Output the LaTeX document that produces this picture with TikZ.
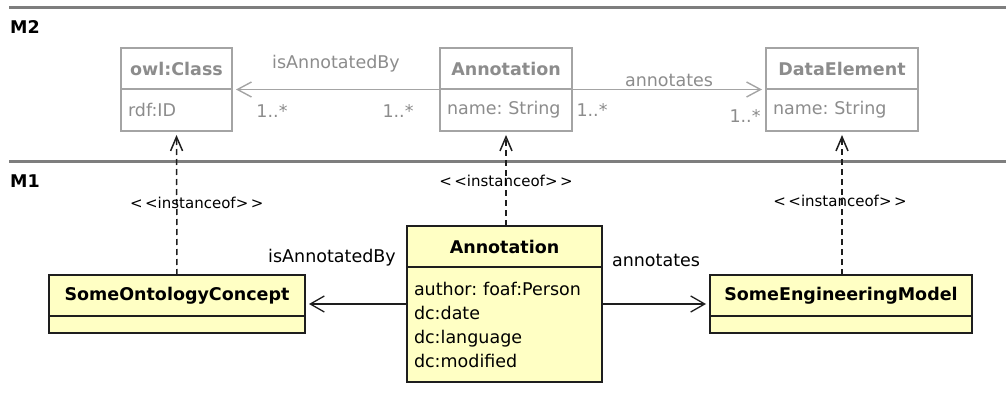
\documentclass[tikz,border=0pt]{standalone}
\usepackage{fontspec}
\setmainfont{DejaVu Sans}
\usetikzlibrary{positioning,arrows.meta,fit}
\definecolor{metaGray}{HTML}{8C8C8C}
\definecolor{metaLine}{HTML}{A4A4A4}
\definecolor{levelGray}{HTML}{7E7E7E}
\definecolor{modelFill}{HTML}{FFFFC4}
\definecolor{modelLine}{HTML}{1E1E1E}
\newcommand{\umlfont}{\fontsize{17.5pt}{24pt}\selectfont}
\newcommand{\stereofont}{\fontsize{15pt}{16pt}\selectfont}
\frenchspacing
\tikzset{
    metatitle/.style={draw=metaLine,line width=1.4pt,text=metaGray,font=\umlfont\bfseries,
        minimum width=#1,minimum height=41pt,inner sep=0pt,outer sep=0pt,anchor=north west},
    metabody/.style={draw=metaLine,line width=1.4pt,text=metaGray,font=\umlfont,
        text width=#1,minimum height=42pt,inner xsep=7pt,inner ysep=0pt,outer sep=0pt,align=left},
    modeltitle/.style={draw=modelLine,fill=modelFill,line width=1.6pt,font=\umlfont\bfseries,
        minimum width=#1,minimum height=41pt,inner sep=0pt,outer sep=0pt,anchor=north west},
    modelbody/.style={draw=modelLine,fill=modelFill,line width=1.6pt,font=\umlfont,
        text width=#1,inner xsep=7pt,inner ysep=0pt,outer sep=0pt,align=left},
    classfit/.style={inner sep=0pt,outer sep=0pt},
    levelline/.style={draw=levelGray,line width=3pt},
    levellabel/.style={font=\umlfont\bfseries,anchor=west,inner sep=0pt},
    metaassoc/.style={-{Straight Barb[length=14pt,width=15pt]},draw=metaLine,line width=1.4pt,shorten >=4pt},
    modelassoc/.style={-{Straight Barb[length=14pt,width=16pt]},draw=modelLine,line width=1.3pt,shorten >=4pt},
    instanceof/.style={-{Straight Barb[length=14pt,width=12pt]},draw=modelLine,line width=1.5pt,
        dash pattern=on 6pt off 4pt,shorten >=4pt},
    metalabel/.style={font=\umlfont,text=metaGray,inner sep=0pt},
    rolelabel/.style={font=\umlfont,inner sep=0pt},
    stereolabel/.style={font=\stereofont,inner sep=0pt}
}

\begin{document}
\begin{tikzpicture}[x=1pt,y=-1pt]
    \useasboundingbox (0,0) rectangle (1006,398);
    % levels
    \draw[levelline] (9,8) -- (1006,8);
    \draw[levelline] (9,162) -- (1006,162);
    \node[levellabel] (lvlM2) at (10,27) {M2};
    \node[levellabel] (lvlM1) at (10,181) {M1};

    % M2 classes
    \node[metatitle=111pt] (owlT) at (121,48) {owl:Class};
    \node[metabody=97pt] (owlB) [below=0pt of owlT] {rdf:ID};
    \node[metatitle=132pt] (annMT) at (440,48) {Annotation};
    \node[metabody=118pt] (annMB) [below=0pt of annMT] {name: String};
    \node[metatitle=152pt] (dataT) at (766,48) {DataElement};
    \node[metabody=138pt] (dataB) [below=0pt of dataT] {name: String};
    \node[classfit,fit=(owlT)(owlB)] (owl) {};
    \node[classfit,fit=(annMT)(annMB)] (annM) {};
    \node[classfit,fit=(dataT)(dataB)] (data) {};

    % M1 classes
    \node[modeltitle=256pt] (conceptT) at (49,275) {SomeOntologyConcept};
    \node[modelbody=242pt,minimum height=17pt] (conceptB) [below=0pt of conceptT] {};
    \node[modeltitle=195pt] (annT) at (407,226) {Annotation};
    \node[modelbody=181pt,minimum height=115pt] (annB) [below=0pt of annT]
        {author: foaf:Person\\dc:date\\dc:language\\dc:modified};
    \node[modeltitle=262pt] (modelT) at (710,275) {SomeEngineeringModel};
    \node[modelbody=248pt,minimum height=17pt] (modelB) [below=0pt of modelT] {};
    \node[classfit,fit=(conceptT)(conceptB)] (concept) {};
    \node[classfit,fit=(annT)(annB)] (ann) {};
    \node[classfit,fit=(modelT)(modelB)] (model) {};

    % M2 associations
    \draw[metaassoc] (annM.west) -- (owl.east)
        node[metalabel,midway,yshift=25.5pt] {isAnnotatedBy}
        node[metalabel,at end,xshift=40pt,yshift=-21.5pt] {1..*}
        node[metalabel,at start,xshift=-42pt,yshift=-21.5pt] {1..*};
    \draw[metaassoc] (annM.east) -- (data.west)
        node[metalabel,midway,yshift=9.5pt] {annotates}
        node[metalabel,at start,xshift=20pt,yshift=-20.5pt] {1..*}
        node[metalabel,at end,xshift=-21pt,yshift=-26.5pt] {1..*};

    % M1 associations
    \draw[modelassoc] (ann.west) -- (concept.east)
        node[rolelabel,at end,xshift=27pt,yshift=46pt] {isAnnotatedBy};
    \draw[modelassoc] (ann.east) -- (model.west)
        node[rolelabel,midway,yshift=44pt] {annotates};

    % instance of
    \draw[instanceof] (concept.north) -- (owl.south)
        node[stereolabel,midway,xshift=20pt] {<\,<instanceof>\,>};
    \draw[instanceof] (annM.south |- ann.north) -- (annM.south)
        node[stereolabel,midway,yshift=-2.5pt] {<\,<instanceof>\,>};
    \draw[instanceof] (data.south |- model.north) -- (data.south)
        node[stereolabel,midway,xshift=-2pt,yshift=2pt] {<\,<instanceof>\,>};
\end{tikzpicture}
\end{document}
